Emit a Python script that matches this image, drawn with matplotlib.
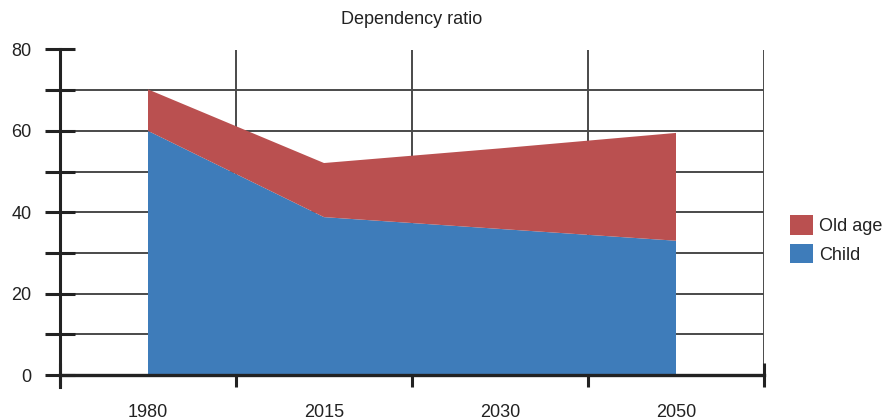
import matplotlib
matplotlib.use("Agg")
import matplotlib.pyplot as plt
from matplotlib.patches import Patch

years = ["1980", "2015", "2030", "2050"]
child = [60.0, 38.8, 35.9, 33.0]
old_age = [10.2, 13.3, 19.8, 26.5]

blue = "#3E7CBA"
red = "#BA5050"
ink = "#222222"
grid = "#4a4a4a"

plt.rcParams["font.family"] = ["Liberation Sans", "DejaVu Sans"]

fig = plt.figure(figsize=(8.86, 4.2), dpi=100)
ax = fig.add_axes([60 / 886, 1 - 375 / 420, 704 / 886, (375 - 49.5) / 420])

x = list(range(len(years)))
ax.stackplot(x, child, old_age, colors=[blue, red], linewidth=0, zorder=2)

ax.set_xlim(-0.5, len(years) - 0.5)
ax.set_ylim(0, 80)

# band edges carry the grid and ticks, centres carry the labels
ax.set_xticks([i - 0.5 for i in range(len(years) + 1)])
ax.set_xticklabels([])
ax.set_xticks(x, minor=True)
ax.set_xticklabels(years, minor=True)

yt = list(range(0, 81, 10))
ax.set_yticks(yt)
ax.set_yticklabels([str(v) if v % 20 == 0 else "" for v in yt])

ax.grid(True, color=grid, linewidth=1.4, zorder=1)
ax.set_axisbelow(True)

ax.tick_params(axis="y", which="major", direction="inout", length=21, width=2.2,
               color=ink, labelsize=13, labelcolor=ink, pad=10)
ax.tick_params(axis="x", which="major", direction="inout", length=17, width=2.2,
               color=ink)
ax.tick_params(axis="x", which="minor", length=0, labelsize=13, labelcolor=ink, pad=21)

for side in ["top", "right"]:
    ax.spines[side].set_visible(False)
ax.spines["left"].set_color(ink)
ax.spines["left"].set_linewidth(2.2)
ax.spines["left"].set_bounds(-3, 80)
ax.spines["bottom"].set_color(ink)
ax.spines["bottom"].set_linewidth(2.4)
ax.spines["bottom"].set_zorder(3)
ax.spines["left"].set_zorder(3)

ax.set_ylim(0, 80)
ax.spines["left"].set_clip_on(False)

fig.text(412 / 886, 1 - 20 / 420, "Dependency ratio", ha="center", va="center",
         fontsize=13, color=ink)

handles = [Patch(facecolor=red, edgecolor="none", label="Old age"),
           Patch(facecolor=blue, edgecolor="none", label="Child")]
fig.legend(handles=handles, loc="center left",
           bbox_to_anchor=(790 / 886, 1 - 239.5 / 420),
           frameon=False, fontsize=13, handlelength=1.28, handleheight=1.28,
           handletextpad=0.35, labelspacing=0.5, borderpad=0, borderaxespad=0,
           labelcolor=ink)

fig.savefig("out.png", dpi=100)
